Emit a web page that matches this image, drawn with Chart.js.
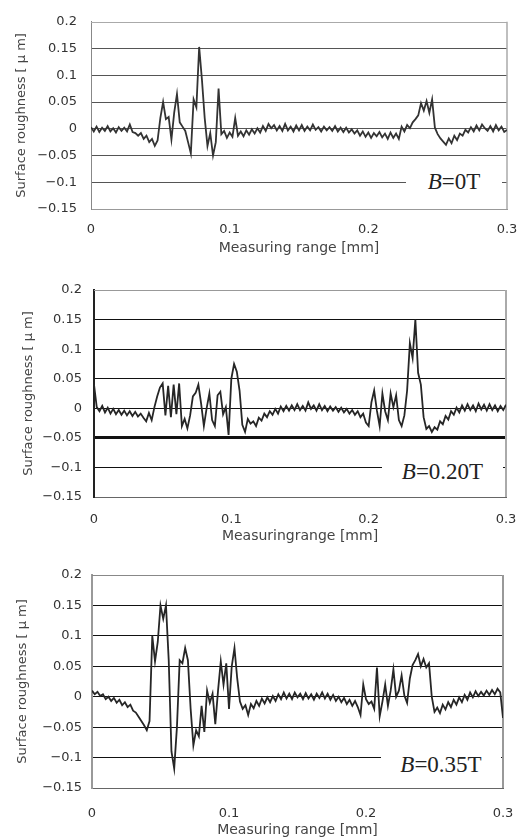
<!DOCTYPE html>
<html><head><meta charset="utf-8">
<script src="https://cdn.jsdelivr.net/npm/chart.js@4.4.1/dist/chart.umd.min.js"></script>
<style>
html,body{margin:0;padding:0;background:#fff;}
#wrap{position:relative;width:524px;height:840px;overflow:hidden;background:#fff;}
canvas{position:absolute;left:0;}
.lbl{position:absolute;background:#fff;font-family:"Liberation Serif","Times New Roman",serif;font-size:23px;color:#222;text-align:center;white-space:nowrap;}
</style></head><body>
<div id="wrap">
<canvas id="c1" width="524" height="262" style="top:0px"></canvas>
<canvas id="c2" width="524" height="280" style="top:270px"></canvas>
<canvas id="c3" width="524" height="285" style="top:555px"></canvas>
<div class="lbl" style="left:406px;top:158px;width:96px;height:48px;line-height:48px"><i>B</i>=0T</div>
<div class="lbl" style="left:382px;top:449px;width:121px;height:45px;line-height:45px"><i>B</i>=0.20T</div>
<div class="lbl" style="left:381px;top:744px;width:120px;height:42px;line-height:42px"><i>B</i>=0.35T</div>
</div>
<script>
// Measuring positions [mm]
const xPositions = [
0,0.002,0.004,0.006,0.008,0.010,0.012,0.014,0.016,0.018,
0.020,0.022,0.024,0.026,0.028,0.030,0.032,0.034,0.036,0.038,
0.040,0.042,0.044,0.046,0.048,0.050,0.052,0.054,0.056,0.058,
0.060,0.062,0.064,0.066,0.068,0.070,0.072,0.074,0.076,0.078,
0.080,0.082,0.084,0.086,0.088,0.090,0.092,0.094,0.096,0.098,
0.100,0.102,0.104,0.106,0.108,0.110,0.112,0.114,0.116,0.118,
0.120,0.122,0.124,0.126,0.128,0.130,0.132,0.134,0.136,0.138,
0.140,0.142,0.144,0.146,0.148,0.150,0.152,0.154,0.156,0.158,
0.160,0.162,0.164,0.166,0.168,0.170,0.172,0.174,0.176,0.178,
0.180,0.182,0.184,0.186,0.188,0.190,0.192,0.194,0.196,0.198,
0.200,0.202,0.204,0.206,0.208,0.210,0.212,0.214,0.216,0.218,
0.220,0.222,0.224,0.226,0.228,0.230,0.232,0.234,0.236,0.238,
0.240,0.242,0.244,0.246,0.248,0.250,0.252,0.254,0.256,0.258,
0.260,0.262,0.264,0.266,0.268,0.270,0.272,0.274,0.276,0.278,
0.280,0.282,0.284,0.286,0.288,0.290,0.292,0.294,0.296,0.298,0.300
];
// Surface roughness [um], B = 0 T
const roughness0T = [
0.003,-0.005,0.004,-0.006,0.002,-0.004,0.005,-0.005,0.001,-0.007,
0.003,-0.004,0.002,-0.005,0.008,-0.006,-0.008,-0.013,-0.008,-0.019,
-0.013,-0.025,-0.019,-0.032,-0.022,0.020,0.050,0.018,0.022,-0.020,
0.030,0.065,0.012,0.004,-0.004,-0.025,-0.046,0.055,0.040,0.153,
0.092,0.020,-0.032,-0.008,-0.050,-0.025,0.075,-0.010,-0.004,-0.017,
-0.007,-0.015,0.020,-0.013,-0.005,-0.014,-0.003,-0.011,-0.001,-0.009,
0.001,-0.007,0.005,-0.004,0.009,0.001,0.007,-0.003,0.005,-0.004,
0.009,-0.003,0.004,-0.005,0.006,-0.003,0.007,-0.004,0.004,-0.003,
0.008,-0.002,0.003,-0.005,0.004,-0.003,0.003,-0.004,0.005,-0.005,
0.002,-0.006,0.002,-0.007,-0.001,-0.009,-0.003,-0.013,-0.005,-0.015,
-0.007,-0.017,-0.008,-0.014,-0.006,-0.016,-0.009,-0.019,-0.007,-0.017,
-0.009,-0.019,0.004,-0.005,0.007,0.001,0.012,0.018,0.025,0.048,
0.034,0.052,0.030,0.055,0.002,-0.010,-0.018,-0.024,-0.030,-0.018,
-0.027,-0.013,-0.021,-0.009,-0.013,-0.002,-0.007,0.003,-0.005,0.006,
-0.003,0.008,0.001,-0.004,0.005,-0.005,0.007,-0.003,0.004,-0.006,-0.002
];
// Surface roughness [um], B = 0.20 T
const roughness020T = [
0.040,0.002,-0.005,0.004,-0.007,0.001,-0.009,-0.001,-0.010,-0.003,
-0.011,-0.004,-0.012,-0.005,-0.013,-0.006,-0.014,-0.009,-0.016,-0.022,
-0.008,-0.020,0.002,0.020,0.035,0.042,-0.012,0.038,-0.015,0.040,
-0.010,0.042,-0.030,-0.018,-0.034,-0.012,0.020,0.026,0.040,0.008,
-0.030,0.000,0.025,-0.020,-0.030,0.022,0.028,-0.010,0.002,-0.045,
0.050,0.075,0.062,0.030,-0.028,-0.040,-0.018,-0.026,-0.022,-0.030,
-0.016,-0.021,-0.009,-0.015,-0.005,-0.011,-0.001,-0.009,0.003,-0.005,
0.004,-0.004,0.005,-0.003,0.007,-0.003,0.004,-0.004,0.010,-0.001,
0.005,-0.004,0.007,-0.003,0.004,-0.005,0.003,-0.004,0.002,-0.006,
0.001,-0.007,-0.001,-0.009,-0.003,-0.011,-0.005,-0.015,-0.009,-0.024,
-0.030,0.010,0.030,-0.004,-0.030,0.025,-0.005,-0.020,0.025,0.002,
0.022,-0.020,-0.030,-0.012,0.030,0.110,0.085,0.150,0.060,0.040,
-0.015,-0.035,-0.030,-0.040,-0.032,-0.036,-0.022,-0.027,-0.013,-0.019,
-0.005,-0.011,0.001,-0.007,0.005,-0.004,0.007,-0.003,0.005,-0.005,
0.008,-0.002,0.006,-0.004,0.007,-0.003,0.005,-0.005,0.004,-0.003,0.006
];
// Surface roughness [um], B = 0.35 T
const roughness035T = [
0.010,0.004,0.008,0.001,0.004,-0.004,0.000,-0.007,-0.002,-0.010,
-0.005,-0.014,-0.009,-0.017,-0.013,-0.023,-0.026,-0.033,-0.040,-0.047,
-0.055,-0.040,0.100,0.058,0.090,0.150,0.128,0.150,0.060,-0.090,
-0.118,-0.050,0.060,0.055,0.080,0.060,-0.020,-0.080,-0.055,-0.065,
-0.015,-0.058,0.010,-0.010,0.005,-0.045,0.010,0.058,0.020,0.055,
-0.020,0.050,0.080,0.030,-0.008,-0.020,-0.014,-0.030,-0.012,-0.019,
-0.007,-0.015,-0.003,-0.011,-0.001,-0.009,0.001,-0.007,0.004,-0.004,
0.007,-0.003,0.005,-0.004,0.007,-0.001,0.005,-0.004,0.006,-0.003,
0.004,-0.005,0.005,-0.002,0.007,-0.003,0.005,-0.005,0.003,-0.007,
0.000,-0.009,-0.002,-0.012,-0.005,-0.015,-0.007,-0.017,-0.030,0.020,
-0.004,-0.012,-0.008,-0.020,0.048,-0.032,-0.008,0.020,-0.015,0.010,
0.045,0.000,0.010,0.035,0.002,-0.010,0.030,0.052,0.060,0.070,
0.050,0.062,0.048,0.055,0.000,-0.025,-0.018,-0.027,-0.013,-0.021,
-0.009,-0.017,-0.005,-0.013,-0.001,-0.009,0.003,-0.005,0.007,-0.001,
0.009,0.001,0.008,0.002,0.010,0.003,0.011,0.004,0.013,0.007,-0.035
];
const yTickValues = [-0.15,-0.1,-0.05,0,0.05,0.1,0.15,0.2];
const xTickValues = [0,0.1,0.2,0.3];
const yAxisTitle = 'Surface roughness [ \u03BC m]';
const xAxisTitles = ['Measuring range [mm]','Measuringrange [mm]','Measuring range [mm]'];

Chart.defaults.font.family = '"DejaVu Sans", "Liberation Sans", sans-serif';

function fmt(v){
  if (Math.abs(v) < 1e-9) return '0';
  const s = String(parseFloat(Math.abs(v).toFixed(3)));
  return (v < 0 ? '\u2212' : '') + s;
}
function near(a,b){ return Math.abs(a-b) < 1e-9; }

function makePanel(id, values, g){
  const pts = xPositions.map((x,i)=>({x:x, y:values[i]}));
  const framePlugin = {
    id:'frame'+id,
    beforeDatasetsDraw(chart){
      const ctx = chart.ctx, a = chart.chartArea;
      ctx.save();
      ctx.strokeStyle = g.topColor; ctx.lineWidth = g.topWidth;
      ctx.beginPath(); ctx.moveTo(a.left, Math.round(a.top)+0.5); ctx.lineTo(a.right, Math.round(a.top)+0.5); ctx.stroke();
      ctx.strokeStyle = g.rightColor; ctx.lineWidth = g.rightWidth;
      ctx.beginPath(); ctx.moveTo(Math.round(a.right), a.top); ctx.lineTo(Math.round(a.right), a.bottom); ctx.stroke();
      ctx.restore();
    }
  };
  new Chart(document.getElementById(id), {
    type:'line',
    data:{datasets:[{data:pts, borderColor:g.lineColor, borderWidth:g.lineWidth, pointRadius:0, tension:0, fill:false, borderJoinStyle:'miter'}]},
    options:{
      responsive:false, animation:false, devicePixelRatio:1,
      layout:{padding:{left:0, top:g.padTop, right:g.padRight, bottom:0}},
      plugins:{legend:{display:false}, tooltip:{enabled:false}},
      scales:{
        x:{type:'linear', min:0, max:0.3,
          afterFit(s){ s.height = g.xHeight; },
          afterBuildTicks(s){ s.ticks = xTickValues.map(v=>({value:v})); },
          grid:{display:false},
          border:{display:true, color:g.bottomColor, width:g.bottomWidth},
          ticks:{padding:g.xTickPad, color:'#333', font:{size:13}, callback:fmt, maxRotation:0, autoSkip:false},
          title:{display:true, text:g.xTitle, color:'#444', font:{size:14}, padding:{top:0, bottom:g.xTitlePad}}
        },
        y:{type:'linear', min:-0.15, max:0.2,
          afterFit(s){ s.width = g.yWidth; },
          afterBuildTicks(s){ s.ticks = yTickValues.map(v=>({value:v})); },
          grid:{drawTicks:false,
            color: c => (c.tick && (near(c.tick.value,0.2) || near(c.tick.value,-0.15))) ? 'rgba(0,0,0,0)' : g.gridColor,
            lineWidth: c => (c.tick && g.thickAt !== null && near(c.tick.value, g.thickAt)) ? 3 : 1},
          border:{display:true, color:g.leftColor, width:g.leftWidth},
          ticks:{padding:g.yTickPad, color:'#333', font:{size:13}, callback:fmt, autoSkip:false},
          title:{display:true, text:yAxisTitle, color:'#444', font:{size:13}, padding:{top:g.yTitlePad, bottom:0}}
        }
      }
    },
    plugins:[framePlugin]
  });
}

makePanel('c1', roughness0T, {padTop:10, padRight:17, yWidth:91, xHeight:53, xTickPad:5, xTitlePad:5, yTickPad:14, yTitlePad:14,
  xTitle:xAxisTitles[0], gridColor:'#555', thickAt:null, leftColor:'#888', leftWidth:1, bottomColor:'#999', bottomWidth:1,
  topColor:'#aaa', topWidth:1, rightColor:'#aaa', rightWidth:1.5, lineColor:'#333', lineWidth:1.8});
makePanel('c2', roughness020T, {padTop:20, padRight:18, yWidth:94, xHeight:53, xTickPad:7, xTitlePad:5, yTickPad:12, yTitlePad:21,
  xTitle:xAxisTitles[1], gridColor:'#111', thickAt:-0.05, leftColor:'#222', leftWidth:2, bottomColor:'#666', bottomWidth:1,
  topColor:'#999', topWidth:1, rightColor:'#aaa', rightWidth:2, lineColor:'#262626', lineWidth:1.8});
makePanel('c3', roughness035T, {padTop:20, padRight:21, yWidth:92, xHeight:52, xTickPad:10, xTitlePad:1, yTickPad:10, yTitlePad:15,
  xTitle:xAxisTitles[2], gridColor:'#111', thickAt:null, leftColor:'#999', leftWidth:2, bottomColor:'#666', bottomWidth:1,
  topColor:'#888', topWidth:1, rightColor:'#999', rightWidth:2, lineColor:'#262626', lineWidth:1.8});
</script>
</body></html>
